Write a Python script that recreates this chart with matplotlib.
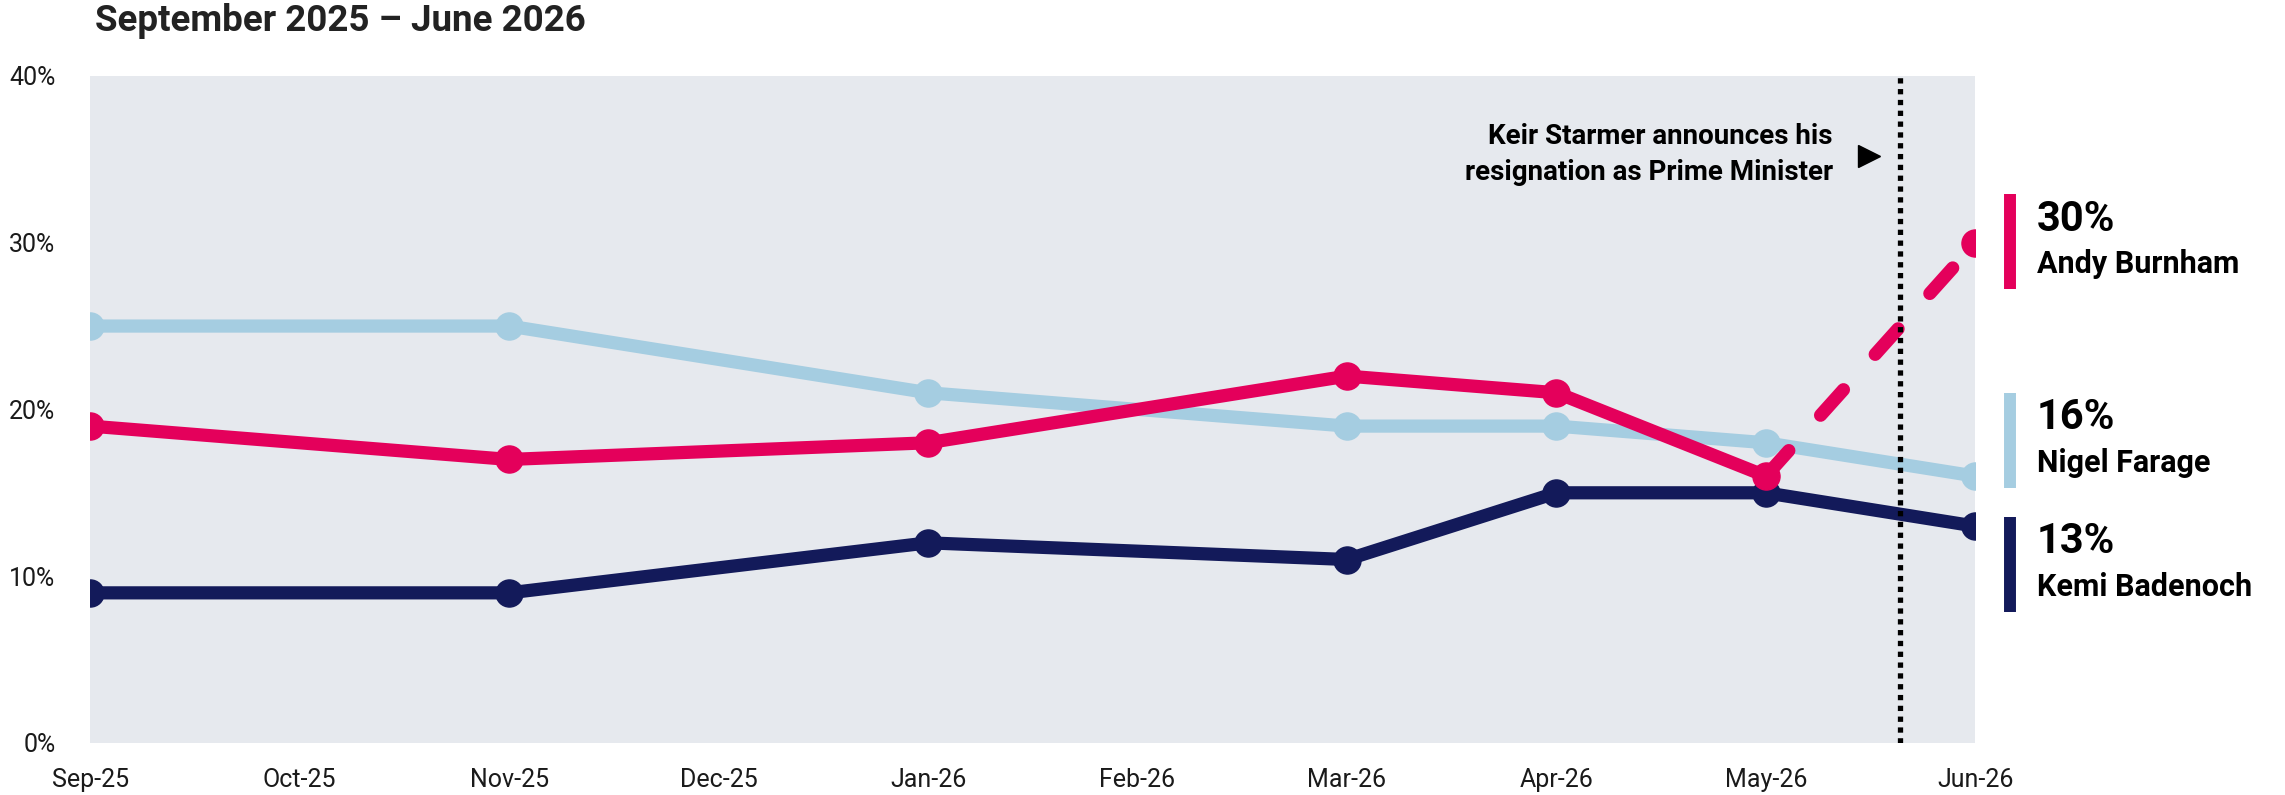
import matplotlib
matplotlib.use("Agg")
import matplotlib.pyplot as plt

plt.rcParams['font.family'] = ['Roboto', 'DejaVu Sans']

# Data
months = ['Sep-25', 'Oct-25', 'Nov-25', 'Dec-25', 'Jan-26',
          'Feb-26', 'Mar-26', 'Apr-26', 'May-26', 'Jun-26']
poll_months = ['Sep-25', 'Nov-25', 'Jan-26', 'Mar-26', 'Apr-26', 'May-26', 'Jun-26']
farage = [25, 25, 21, 19, 19, 18, 16]
badenoch = [9, 9, 12, 11, 15, 15, 13]
burnham_months = ['Sep-25', 'Nov-25', 'Jan-26', 'Mar-26', 'Apr-26', 'May-26']
burnham = [19, 17, 18, 22, 21, 16]
burnham_proj_months = ['May-26', 'Jun-26']
burnham_proj = [16, 30]

y_ticks = [0, 10, 20, 30, 40]
names = ['Andy Burnham', 'Nigel Farage', 'Kemi Badenoch']
latest = ['30%', '16%', '13%']

PINK = '#E4005B'
LIGHT = '#A5CDE1'
NAVY = '#131A5A'
BG = '#E6E9EE'

def idx(lst):
    return [months.index(m) for m in lst]

fig = plt.figure(figsize=(22.85, 7.95), dpi=100)
ax = fig.add_axes([0.0395, 0.0655, 0.825, 0.839])
ax.set_facecolor(BG)

lw = 9.5
ms = 19.5
ax.plot(idx(poll_months), farage, color=LIGHT, lw=lw, marker='o', ms=ms,
        solid_capstyle='round', zorder=2)
ax.plot(idx(poll_months), badenoch, color=NAVY, lw=lw, marker='o', ms=ms,
        solid_capstyle='round', zorder=3)
ax.plot(idx(burnham_months), burnham, color=PINK, lw=lw, marker='o', ms=ms,
        solid_capstyle='round', zorder=4)
ax.plot(idx(burnham_proj_months), burnham_proj, color=PINK, lw=lw,
        linestyle=(0, (2.6, 3.6)), dash_capstyle='round', zorder=4)
ax.plot(idx(burnham_proj_months)[1:], burnham_proj[1:], color=PINK, marker='o',
        ms=ms, lw=0, zorder=4)

# resignation marker line
resign_x = 8.64
ax.axvline(resign_x, color='black', lw=3.8, linestyle=(0, (1, 1.05)),
           dash_capstyle='butt', zorder=6)
ax.text(8.32, 35.3, 'Keir Starmer announces his\nresignation as Prime Minister',
        ha='right', va='center', fontsize=20, fontweight='bold',
        linespacing=1.45, color='black', zorder=7)
ax.plot([8.49], [35.2], marker='>', color='black', ms=16, lw=0, zorder=7)

ax.set_xlim(0, len(months) - 1)
ax.set_ylim(0, 40)
ax.set_xticks(range(len(months)))
ax.set_xticklabels(months)
ax.set_yticks(y_ticks)
ax.set_yticklabels([f'{v}%' for v in y_ticks])
ax.tick_params(axis='both', length=0, labelsize=18, labelcolor='#1a1a1a')
ax.tick_params(axis='x', pad=18)
ax.tick_params(axis='y', pad=25)
for s in ax.spines.values():
    s.set_visible(False)

# right-hand labels
centers = [30.05, 18.15, 10.7]
colors = [PINK, LIGHT, NAVY]
tr = ax.get_yaxis_transform()
for c, col, pct, nm in zip(centers, colors, latest, names):
    ax.plot([1.0185, 1.0185], [c - 2.85, c + 2.85], color=col, lw=8.6,
            solid_capstyle='butt', transform=tr, clip_on=False)
    ax.text(1.0325, c + 1.35, pct, transform=tr, ha='left', va='center',
            fontsize=30, fontweight='bold', color='black')
    ax.text(1.0325, c - 1.35, nm, transform=tr, ha='left', va='center',
            fontsize=22, fontweight='bold', color='black')

fig.text(0.0415, 0.974, 'September 2025 – June 2026', ha='left', va='center',
         fontsize=26.5, fontweight='bold', color='#222222')

fig.savefig('out.png', dpi=100)
